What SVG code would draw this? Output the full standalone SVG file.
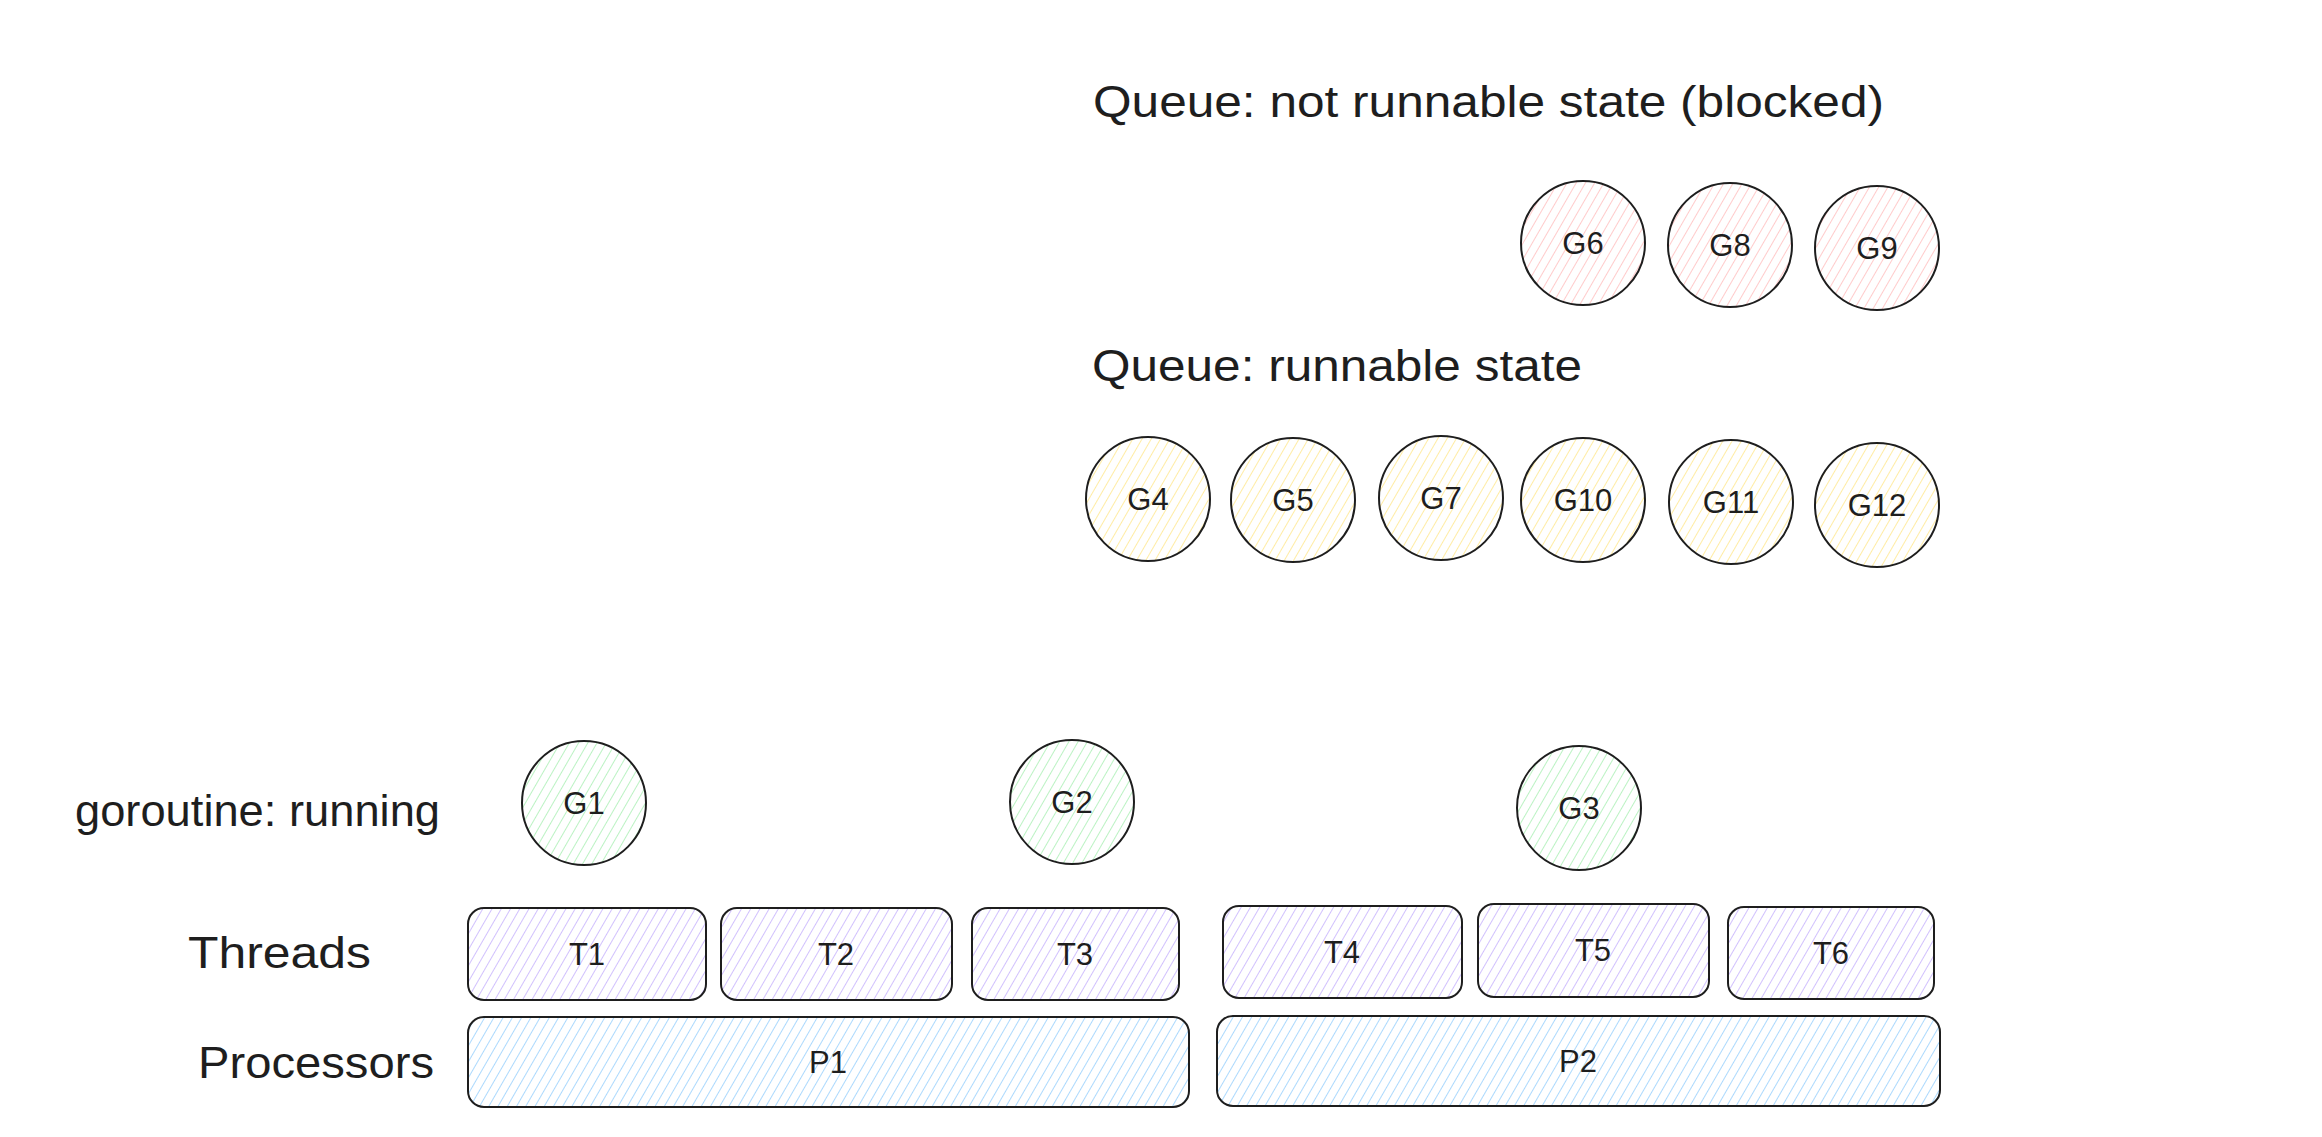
<svg xmlns="http://www.w3.org/2000/svg" width="2322" height="1137" viewBox="0 0 2322 1137">
<style>
.shape{stroke:#1e1e1e;stroke-width:2}
.title{font-family:"Liberation Sans","DejaVu Sans",sans-serif;font-size:44px;fill:#1e1e1e}
.lbl{font-family:"Liberation Sans","DejaVu Sans",sans-serif;font-size:31px;fill:#1e1e1e;text-anchor:middle;dominant-baseline:central}
</style>
<defs>
<pattern id="hRed" patternUnits="userSpaceOnUse" width="8" height="12" patternTransform="rotate(30)"><line x1="0" y1="0" x2="0" y2="12" stroke="#ffa8a8" stroke-width="1.2"/></pattern>
<pattern id="hYellow" patternUnits="userSpaceOnUse" width="8" height="12" patternTransform="rotate(30)"><line x1="0" y1="0" x2="0" y2="12" stroke="#ffe066" stroke-width="1.2"/></pattern>
<pattern id="hGreen" patternUnits="userSpaceOnUse" width="8" height="12" patternTransform="rotate(30)"><line x1="0" y1="0" x2="0" y2="12" stroke="#8ce99a" stroke-width="1.2"/></pattern>
<pattern id="hPurple" patternUnits="userSpaceOnUse" width="8" height="12" patternTransform="rotate(30)"><line x1="0" y1="0" x2="0" y2="12" stroke="#b197fc" stroke-width="1.2"/></pattern>
<pattern id="hBlue" patternUnits="userSpaceOnUse" width="8" height="12" patternTransform="rotate(30)"><line x1="0" y1="0" x2="0" y2="12" stroke="#74c0fc" stroke-width="1.2"/></pattern>
</defs>
<rect width="2322" height="1137" fill="#ffffff"/>

<g id="titles">
<text class="title" x="1093" y="117" textLength="791" lengthAdjust="spacingAndGlyphs">Queue: not runnable state (blocked)</text>
<text class="title" x="1092" y="381" textLength="490" lengthAdjust="spacingAndGlyphs">Queue: runnable state</text>
<text class="title" x="75" y="826" textLength="365" lengthAdjust="spacingAndGlyphs">goroutine: running</text>
<text class="title" x="188" y="968" textLength="183" lengthAdjust="spacingAndGlyphs">Threads</text>
<text class="title" x="198" y="1078" textLength="236" lengthAdjust="spacingAndGlyphs">Processors</text>
</g>

<g id="G6"><circle class="shape" cx="1583" cy="243" r="62" fill="url(#hRed)"/><text class="lbl" x="1583" y="243">G6</text></g>
<g id="G8"><circle class="shape" cx="1730" cy="245" r="62" fill="url(#hRed)"/><text class="lbl" x="1730" y="245">G8</text></g>
<g id="G9"><circle class="shape" cx="1877" cy="248" r="62" fill="url(#hRed)"/><text class="lbl" x="1877" y="248">G9</text></g>

<g id="G4"><circle class="shape" cx="1148" cy="499" r="62" fill="url(#hYellow)"/><text class="lbl" x="1148" y="499">G4</text></g>
<g id="G5"><circle class="shape" cx="1293" cy="500" r="62" fill="url(#hYellow)"/><text class="lbl" x="1293" y="500">G5</text></g>
<g id="G7"><circle class="shape" cx="1441" cy="498" r="62" fill="url(#hYellow)"/><text class="lbl" x="1441" y="498">G7</text></g>
<g id="G10"><circle class="shape" cx="1583" cy="500" r="62" fill="url(#hYellow)"/><text class="lbl" x="1583" y="500">G10</text></g>
<g id="G11"><circle class="shape" cx="1731" cy="502" r="62" fill="url(#hYellow)"/><text class="lbl" x="1731" y="502">G11</text></g>
<g id="G12"><circle class="shape" cx="1877" cy="505" r="62" fill="url(#hYellow)"/><text class="lbl" x="1877" y="505">G12</text></g>

<g id="G1"><circle class="shape" cx="584" cy="803" r="62" fill="url(#hGreen)"/><text class="lbl" x="584" y="803">G1</text></g>
<g id="G2"><circle class="shape" cx="1072" cy="802" r="62" fill="url(#hGreen)"/><text class="lbl" x="1072" y="802">G2</text></g>
<g id="G3"><circle class="shape" cx="1579" cy="808" r="62" fill="url(#hGreen)"/><text class="lbl" x="1579" y="808">G3</text></g>

<g id="T1"><rect class="shape" x="468" y="908" width="238" height="92" rx="16" fill="url(#hPurple)"/><text class="lbl" x="587" y="954">T1</text></g>
<g id="T2"><rect class="shape" x="721" y="908" width="231" height="92" rx="16" fill="url(#hPurple)"/><text class="lbl" x="836" y="954">T2</text></g>
<g id="T3"><rect class="shape" x="972" y="908" width="207" height="92" rx="16" fill="url(#hPurple)"/><text class="lbl" x="1075" y="954">T3</text></g>
<g id="T4"><rect class="shape" x="1223" y="906" width="239" height="92" rx="16" fill="url(#hPurple)"/><text class="lbl" x="1342" y="952">T4</text></g>
<g id="T5"><rect class="shape" x="1478" y="904" width="231" height="93" rx="16" fill="url(#hPurple)"/><text class="lbl" x="1593" y="950">T5</text></g>
<g id="T6"><rect class="shape" x="1728" y="907" width="206" height="92" rx="16" fill="url(#hPurple)"/><text class="lbl" x="1831" y="953">T6</text></g>

<g id="P1"><rect class="shape" x="468" y="1017" width="721" height="90" rx="16" fill="url(#hBlue)"/><text class="lbl" x="828" y="1062">P1</text></g>
<g id="P2"><rect class="shape" x="1217" y="1016" width="723" height="90" rx="16" fill="url(#hBlue)"/><text class="lbl" x="1578" y="1061">P2</text></g>

<g id="connectors"></g>
</svg>
